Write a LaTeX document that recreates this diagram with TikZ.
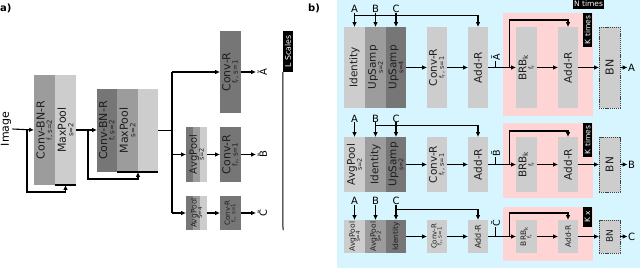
\documentclass[tikz,border=0pt]{standalone}
\usepackage{fontspec}
\setmainfont{DejaVu Sans}
\usetikzlibrary{arrows.meta}
\definecolor{dk}{HTML}{767676}
\definecolor{md}{HTML}{9C9C9C}
\definecolor{lt}{HTML}{CDCDCD}
\definecolor{bgb}{HTML}{D6F5FE}
\definecolor{bgp}{HTML}{FFD4D4}
\definecolor{txt}{HTML}{1E1E1E}
\newcommand\fz[1]{\fontsize{#1}{#1}\selectfont}
\newcommand\bx[7]{%
  \node[bxs, fill=#6, minimum width=#4pt, minimum height=#5pt] (#1) at (#2,#3) {};
  \node[lab] (#1t) at (#1.center) {#7};}
\begin{document}
\begin{tikzpicture}[x=1pt,y=-1pt,
  bxs/.style={inner sep=0, outer sep=0, draw=none},
  lab/.style={rotate=90, align=center, inner sep=0, text=txt, font={\fontsize{10}{7}\selectfont\lineskiplimit=-50pt\lineskip=0pt}},
  arr/.style={-{Latex[length=4.8pt,width=4.5pt]}, line width=1.1pt},
  ln/.style={line width=1.1pt},
  blk/.style={fill=black, text=white, inner sep=0, font=\fz{7.5}},
  letr/.style={anchor=base, inner sep=0, font=\fz{10}},
  bnd/.style={draw=black!75, line width=0.8pt, dash pattern=on 1.2pt off 0.9pt},
  stripes/.style={fill=lt, path picture={
    \fill[dk] (path picture bounding box.north west) rectangle ([xshift=7pt]path picture bounding box.south west);
    \fill[md] ([xshift=7pt]path picture bounding box.north west) rectangle ([xshift=14pt]path picture bounding box.south west);}}
]
\useasboundingbox (0,0) rectangle (640,268);
% ---------------- panel a ----------------
\node[anchor=west, inner sep=0, font=\bfseries\fz{10}] (la) at (0,8) {a)};
\node[rotate=90, inner sep=1pt, font=\fz{11}] (img) at (6,129) {Image};
\bx{cb1}{44.5}{130}{21}{110}{md}{{\fz{11}Conv-BN-R}\\[0.3pt]{\fz{7}f, s=2}}
\bx{mp1}{65.5}{130}{21}{110}{lt}{{\fz{11}MaxPool}\\[0.3pt]{\fz{7}s=2}}
\bx{cb2}{107}{130.5}{20}{83}{dk}{{\fz{11}Conv-BN-R}\\[0.3pt]{\fz{7}f, s=2}}
\bx{mp2}{127.5}{130.5}{21}{83}{md}{{\fz{11}MaxPool}\\[0.3pt]{\fz{7}s=2}}
\node[bxs, fill=lt, minimum width=20pt, minimum height=83pt] (e2) at (148,130.5) {};
\bx{cr1}{230.5}{72}{21}{82}{dk}{{\fz{11}Conv-R}\\[0.3pt]{\fz{7}f\textsubscript{r}, s=1}}
\bx{ap2}{196.5}{154.5}{21}{55}{lt,stripes}{{\fz{10}AvgPool}\\{\fz{6.5}s=2}}
\bx{cr2}{230.5}{154.5}{21}{55}{dk}{{\fz{11}Conv-R}\\[0.3pt]{\fz{7}f\textsubscript{r}, s=1}}
\bx{ap3}{196.5}{213}{21}{34}{lt,stripes}{{\fz{7.5}AvgPool}\\[-1.5pt]{\fz{5.5}S=4}}
\bx{cr3}{230.5}{213}{21}{34}{dk}{{\fz{7}Conv-R}\\[-1.5pt]{\fz{5.5}f\textsubscript{r}, s=1}}
\draw[arr] (img.south) -- (cb1.west);
\coordinate (l1) at (27,130);
\draw[arr] (l1) |- ([yshift=-7pt]mp1.south) -- (mp1.south);
\draw[ln] (mp1.south west) -- (mp1.south east);
\draw[arr] (mp1.east) -- (mp1.east -| cb2.west);
\coordinate (l2) at (88,130);
\draw[arr] (l2) |- ([yshift=-7pt]mp2.south east) -- (mp2.south east);
\draw[ln] (mp2.south west) -- (e2.south east);
\coordinate (tA) at (172,72);
\coordinate (tB) at (172,154.5);
\coordinate (tC) at (172,213);
\draw[ln] (e2.east) -- (e2.east -| tA);
\draw[ln] (tA) -- (tC);
\draw[arr] (tA) -- (cr1.west);
\draw[arr] (tB) -- (ap2.west);
\draw[arr] (tC) -- (ap3.west);
\draw[arr] (ap2.east) -- (cr2.west);
\draw[arr] (ap3.east) -- (cr3.west);
\node[rotate=90, anchor=north, inner sep=1.5pt, font=\fz{10}] (oa) at (256,72) {\~A};
\node[rotate=90, anchor=north, inner sep=1.5pt, font=\fz{10}] (ob) at (256,154.5) {\~B};
\node[rotate=90, anchor=north, inner sep=1.5pt, font=\fz{10}] (oc) at (256,213) {\~C};
\draw[arr] (cr1.east) -- (oa.north);
\draw[arr] (cr2.east) -- (ob.north);
\draw[arr] (cr3.east) -- (oc.north);
\node[blk, rotate=90, minimum width=41pt, minimum height=10pt, font=\fz{7.8}] (lsc) at (288,51.5) {L Scales};
\coordinate (lse) at (283,230);
\draw[line width=1pt] (lsc.north west) -- (lse);
% ---------------- panel b ----------------
\node[anchor=west, inner sep=0, font=\bfseries\fz{10}] (lb) at (308,8) {b)};
\fill[bgb] (337,0) rectangle (640,268);
\fill[bgp] (503,13) rectangle (593,116);
\fill[bgp] (503,123) rectangle (593,198);
\fill[bgp] (503,207) rectangle (593,261);
\node[blk, minimum width=31pt, minimum height=9pt] (nt) at (588.5,4) {N times};
% row 1
\bx{id1}{354.5}{67.5}{21}{81}{lt}{{\fz{10.5}Identity}}
\bx{ua1}{375.5}{67.5}{21}{81}{md}{{\fz{10.5}UpSamp}\\{\fz{6.5}s=2}}
\bx{ub1}{396}{67.5}{20}{81}{dk}{{\fz{10.5}UpSamp}\\{\fz{6.5}s=4}}
\bx{cv1}{437}{67.5}{20}{81}{lt}{{\fz{10.5}Conv-R}\\{\fz{6.5}f\textsubscript{r}, s=1}}
\bx{ad1}{478}{67.5}{20}{81}{lt}{{\fz{10.5}Add-R}}
\bx{br1}{526.5}{67.5}{21}{81}{lt}{{\fz{10.5}BRB\textsubscript{k}}\\{\fz{6.5}f\textsubscript{r}}}
\bx{ae1}{568}{67.5}{20}{81}{lt}{{\fz{10.5}Add-R}}
\node[bxs, bnd, fill=lt, minimum width=21pt, minimum height=81pt] (bn1) at (609.5,67.5) {};
\node[lab] (bn1t) at (bn1.center) {\fz{11}BN};
\node[letr] (A1) at (354.5,12.5) {A};
\node[letr] (B1) at (375.5,12.5) {B};
\node[letr] (C1) at (396,12.5) {C};
\draw[arr] (A1.south) -- (id1.north);
\draw[arr] (B1.south) -- (ua1.north);
\draw[arr] (C1.south) -- (ub1.north);
\draw[arr] ([yshift=-2.5pt]A1.south) -| (ad1.north);
\draw[arr] (ub1.east) -- (cv1.west);
\draw[arr] (cv1.east) -- (ad1.west);
\draw[arr] (ad1.east) -- (br1.west);
\draw[arr] (br1.east) -- (ae1.west);
\draw[arr] (ae1.east) -- (bn1.west);
\node[anchor=west, inner sep=0.5pt, font=\fz{10}] (o1) at (627.5,67.5) {A};
\draw[arr] (bn1.east) -- (o1.west);
\coordinate (s1) at (509.5,67.5);
\draw[arr] (s1) |- ([yshift=7pt]ae1.north) -- (ae1.north);
\coordinate (k1) at (495.5,67.5);
\node[rotate=90, anchor=west, inner sep=0.5pt, font=\fz{9.5}] (t1) at (495.5,61) {\~A};
\draw[line width=1pt] (k1) -- (t1.west);
\node[blk, rotate=90, minimum width=34pt, minimum height=9.5pt] (kt1) at (587.5,30) {K times};
% row 2
\bx{ap2r}{354.5}{164.5}{21}{55}{lt}{{\fz{10.5}AvgPool}\\{\fz{6.5}s=2}}
\bx{id2}{375.5}{164.5}{21}{55}{md}{{\fz{10.5}Identity}}
\bx{up2}{396}{164.5}{20}{55}{dk}{{\fz{10.5}UpSamp}\\{\fz{6.5}s=2}}
\bx{cv2}{437}{164.5}{20}{55}{lt}{{\fz{10.5}Conv-R}\\{\fz{6.5}f\textsubscript{r}, s=1}}
\bx{ad2}{478}{164.5}{20}{55}{lt}{{\fz{10.5}Add-R}}
\bx{br2}{526.5}{164.5}{21}{55}{lt}{{\fz{10.5}BRB\textsubscript{k}}\\{\fz{6.5}f\textsubscript{r}}}
\bx{ae2}{568}{164.5}{20}{55}{lt}{{\fz{10.5}Add-R}}
\node[bxs, bnd, fill=lt, minimum width=21pt, minimum height=55pt] (bn2) at (609.5,164.5) {};
\node[lab] (bn2t) at (bn2.center) {\fz{10.5}BN};
\node[letr] (A2) at (354.5,122) {A};
\node[letr] (B2) at (375.5,122) {B};
\node[letr] (C2) at (396,122) {C};
\draw[arr] (A2.south) -- (ap2r.north);
\draw[arr] (B2.south) -- (id2.north);
\draw[arr] (C2.south) -- (up2.north);
\draw[arr] ([yshift=-3.5pt]B2.south) -| (ad2.north);
\draw[arr] (up2.east) -- (cv2.west);
\draw[arr] (cv2.east) -- (ad2.west);
\draw[arr] (ad2.east) -- (br2.west);
\draw[arr] (br2.east) -- (ae2.west);
\draw[arr] (ae2.east) -- (bn2.west);
\node[anchor=west, inner sep=0.5pt, font=\fz{10}] (o2) at (627.5,164.5) {B};
\draw[arr] (bn2.east) -- (o2.west);
\coordinate (s2) at (509.5,164.5);
\draw[arr] (s2) |- ([yshift=6pt]ae2.north) -- (ae2.north);
\coordinate (k2) at (495.5,164.5);
\node[rotate=90, anchor=west, inner sep=0.5pt, font=\fz{9.5}] (t2) at (495.5,157) {\~B};
\draw[line width=1pt] (k2) -- (t2.west);
\node[blk, rotate=90, minimum width=34pt, minimum height=9.5pt] (kt2) at (587.5,140) {K times};
% row 3
\bx{ap3a}{354.5}{236.5}{21}{33}{lt}{{\fz{7.5}AvgPool}\\[-2pt]{\fz{5.5}s=4}}
\bx{ap3b}{375.5}{236.5}{21}{33}{md}{{\fz{7.5}AvgPool}\\[-2pt]{\fz{5.5}s=2}}
\bx{id3}{396}{236.5}{20}{33}{dk}{{\fz{7.5}Identity}}
\bx{cv3}{437}{236.5}{20}{33}{lt}{{\fz{7}Conv-R}\\[-2pt]{\fz{5.5}f\textsubscript{r}, s=1}}
\bx{ad3}{478}{236.5}{20}{33}{lt}{{\fz{8}Add-R}}
\bx{br3}{526.5}{236.5}{21}{33}{lt}{{\fz{7.5}BRB\textsubscript{k}}\\[-2pt]{\fz{5.5}f\textsubscript{r}}}
\bx{ae3}{568}{236.5}{20}{33}{lt}{{\fz{7.5}Add-R}}
\node[bxs, bnd, fill=lt, minimum width=21pt, minimum height=33pt] (bn3) at (609.5,236.5) {};
\node[lab] (bn3t) at (bn3.center) {\fz{9}BN};
\node[letr] (A3) at (354.5,204.5) {A};
\node[letr] (B3) at (375.5,204.5) {B};
\node[letr] (C3) at (396,204.5) {C};
\draw[arr] (A3.south) -- (ap3a.north);
\draw[arr] (B3.south) -- (ap3b.north);
\draw[arr] (C3.south) -- (id3.north);
\draw[arr] ([yshift=-4.5pt]C3.south) -| (ad3.north);
\draw[arr] (id3.east) -- (cv3.west);
\draw[arr] (cv3.east) -- (ad3.west);
\draw[arr] (ad3.east) -- (br3.west);
\draw[arr] (br3.east) -- (ae3.west);
\draw[arr] (ae3.east) -- (bn3.west);
\node[anchor=west, inner sep=0.5pt, font=\fz{10}] (o3) at (627.5,236.5) {C};
\draw[arr] (bn3.east) -- (o3.west);
\coordinate (s3) at (509.5,236.5);
\draw[arr] (s3) |- ([yshift=7pt]ae3.north) -- (ae3.north);
\coordinate (k3) at (495.5,236.5);
\node[rotate=90, anchor=west, inner sep=0.5pt, font=\fz{9.5}] (t3) at (495.5,227) {\~C};
\draw[line width=1pt] (k3) -- (t3.west);
\node[blk, rotate=90, minimum width=20pt, minimum height=9.5pt] (kt3) at (587.5,217) {K x};
\end{tikzpicture}
\end{document}
